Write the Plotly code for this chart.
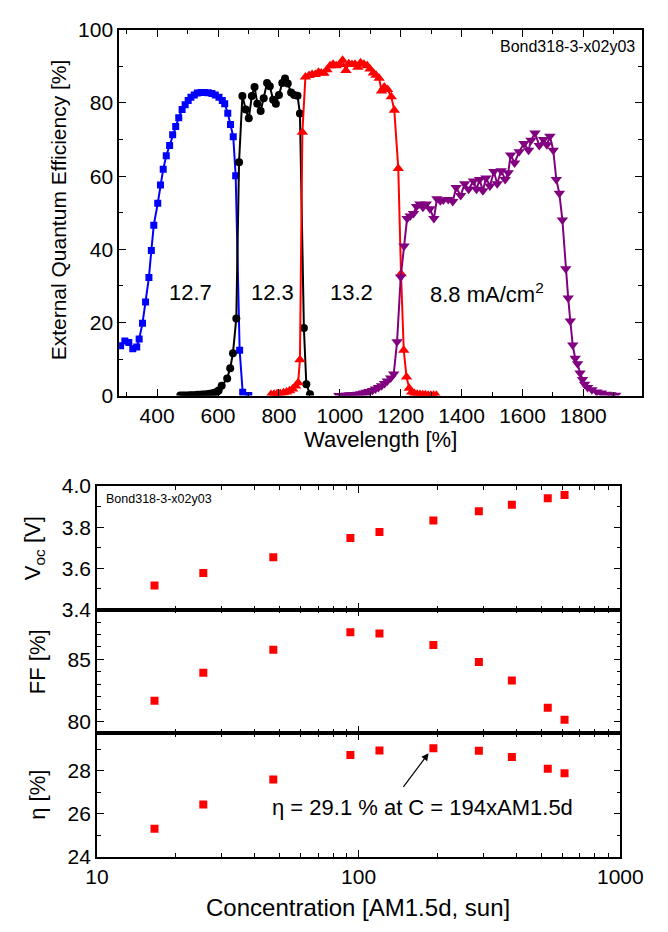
import numpy as np
import plotly.graph_objects as go

# ---------------- Top panel: EQE spectra ----------------
blue_wl = [280, 294, 307, 320, 333, 341, 352, 362, 373, 381, 389, 402, 411, 420, 430, 441, 451, 461,
           471, 482, 492, 502, 511, 522, 532, 544, 555, 568, 580, 591, 603, 614, 622, 632, 641, 650,
           658, 671, 681, 701]
blue_eqe = [13.6, 14.9, 14.5, 12.8, 13.3, 15.5, 19.8, 25.6, 32.3, 39.7, 46.6, 52.6, 57.6, 61.9, 65.6,
            68.4, 71.3, 73.6, 76.0, 78.2, 79.5, 80.7, 81.6, 82.2, 82.7, 82.9, 82.9, 82.8, 82.6, 82.2,
            81.6, 80.7, 79.8, 77.2, 74.1, 70.8, 60.1, 12.4, 0.9, 0.0]

black_wl = [476, 484, 492, 500, 508, 516, 524, 532, 540, 548, 556, 564, 572, 580, 588, 596, 602, 612,
            630, 640, 649, 660, 669, 680, 691, 701, 711, 720, 729, 740, 750, 761, 770, 781, 790, 800,
            811, 820, 829, 840, 850, 861, 869, 882, 890, 902]
black_eqe = [0.0, 0.0, 0.0, 0.0, 0.1, 0.1, 0.1, 0.2, 0.2, 0.3, 0.3, 0.4, 0.5, 0.6, 0.8, 1.0, 1.4, 2.7,
             4.7, 7.5, 11.6, 21.1, 63.8, 81.9, 78.2, 75.8, 81.9, 84.4, 79.8, 77.8, 81.3, 85.5, 84.6,
             80.9, 79.8, 82.2, 85.5, 86.7, 85.3, 82.9, 82.2, 82.0, 77.1, 18.5, 3.1, 0.4]

red_wl = [774, 784, 794, 804, 815, 825, 835, 845, 855, 863, 869, 877, 887, 899, 909, 919, 930, 939,
          948, 958, 968, 978, 988, 999, 1009, 1020, 1029, 1040, 1050, 1059, 1068, 1079, 1090, 1099,
          1110, 1119, 1129, 1137, 1146, 1157, 1169, 1179, 1192, 1201, 1210, 1219, 1228, 1236, 1245,
          1254, 1263, 1272, 1281, 1290, 1299, 1308, 1317]
red_eqe = [0.3, 0.4, 0.5, 0.6, 0.8, 1.0, 1.3, 1.8, 2.6, 3.5, 9.8, 72.0, 87.1, 87.5, 87.8, 87.8, 88.4,
           88.2, 88.1, 89.1, 90.2, 90.6, 90.2, 90.5, 91.7, 88.9, 90.7, 90.5, 90.6, 89.8, 91.0, 90.6,
           90.2, 89.3, 88.2, 87.6, 86.8, 83.3, 84.4, 83.7, 81.7, 78.0, 62.1, 33.3, 12.4, 5.1, 2.0,
           1.0, 0.6, 0.4, 0.3, 0.2, 0.2, 0.1, 0.1, 0.1, 0.1]

purple_wl = [997, 1006, 1015, 1024, 1033, 1042, 1051, 1060, 1069, 1078, 1087, 1096, 1107, 1117, 1127,
             1137, 1147, 1156, 1167, 1177, 1188, 1200, 1211, 1221, 1231, 1242, 1252, 1263, 1273, 1284,
             1296, 1309, 1319, 1330, 1340, 1356, 1371, 1382, 1397, 1410, 1423, 1439, 1449, 1459, 1470,
             1480, 1493, 1506, 1517, 1530, 1543, 1553, 1561, 1574, 1589, 1605, 1620, 1628, 1641, 1655,
             1669, 1680, 1690, 1701, 1711, 1721, 1731, 1742, 1750, 1757, 1765, 1773, 1781, 1789, 1797,
             1804, 1814, 1828, 1844, 1859, 1875, 1890, 1906]
purple_eqe = [0.0, 0.0, 0.1, 0.1, 0.2, 0.2, 0.3, 0.4, 0.5, 0.7, 0.9, 1.1, 1.4, 1.8, 2.2, 2.7, 3.3, 4.0,
              4.8, 5.9, 14.7, 32.4, 40.9, 48.4, 49.1, 49.8, 51.7, 52.4, 51.5, 52.4, 51.1, 48.4, 53.8,
              53.3, 53.5, 53.6, 53.1, 56.9, 54.7, 57.9, 56.4, 58.7, 56.4, 59.1, 56.0, 59.5, 57.3, 61.3,
              57.9, 61.5, 59.1, 60.9, 65.8, 63.6, 66.7, 68.9, 67.1, 69.8, 71.8, 68.4, 70.0, 68.6, 70.9,
              67.1, 59.1, 55.3, 48.0, 34.7, 26.7, 20.4, 13.8, 10.2, 8.7, 6.2, 4.4, 3.1, 2.2, 1.6, 1.0,
              0.7, 0.4, 0.2, 0.1]

jsc_labels = ["12.7", "12.3", "13.2", "8.8 mA/cm<sup>2</sup>"]
jsc_label_wl = [508, 780, 1038, 1482]
jsc_label_y = [28.1, 28.1, 28.1, 28.1]

# ---------------- Bottom panels: vs concentration ----------------
conc = [16.6, 25.5, 47.2, 93.0, 120.1, 193.0, 288, 385, 528, 612]
voc = [3.517, 3.578, 3.654, 3.747, 3.777, 3.833, 3.877, 3.909, 3.940, 3.956]
ff = [81.7, 83.94, 85.78, 87.19, 87.09, 86.17, 84.80, 83.31, 81.13, 80.16]
eta = [25.3, 26.44, 27.6, 28.74, 28.95, 29.06, 28.94, 28.65, 28.1, 27.89]

FONT = "Liberation Sans, Arial, Helvetica, sans-serif"
W, H = 668, 932

fig = go.Figure()
fig.add_trace(go.Scatter(x=blue_wl, y=blue_eqe, mode="lines+markers",
                         line=dict(color="#0000FF", width=2),
                         marker=dict(symbol="square", size=7, color="#0000FF"),
                         xaxis="x", yaxis="y", showlegend=False))
fig.add_trace(go.Scatter(x=black_wl, y=black_eqe, mode="lines+markers",
                         line=dict(color="#000000", width=2),
                         marker=dict(symbol="circle", size=8, color="#000000"),
                         xaxis="x", yaxis="y", showlegend=False))
fig.add_trace(go.Scatter(x=red_wl, y=red_eqe, mode="lines+markers",
                         line=dict(color="#FF0000", width=2),
                         marker=dict(symbol="triangle-up", size=10, color="#FF0000"),
                         xaxis="x", yaxis="y", showlegend=False))
fig.add_trace(go.Scatter(x=purple_wl, y=purple_eqe, mode="lines+markers",
                         line=dict(color="#800080", width=2),
                         marker=dict(symbol="triangle-down", size=10, color="#800080"),
                         xaxis="x", yaxis="y", showlegend=False))

for yv, ax in [(voc, "2"), (ff, "3"), (eta, "4")]:
    fig.add_trace(go.Scatter(x=conc, y=yv, mode="markers",
                             marker=dict(symbol="square", size=8, color="#FF0000"),
                             xaxis="x" + ax, yaxis="y" + ax, showlegend=False))


def px_dom_x(a, b):
    return [a / W, b / W]


def px_dom_y(top, bottom):
    return [1 - bottom / H, 1 - top / H]


def axstyle(lw):
    return dict(showline=True, linecolor="black", linewidth=lw, mirror="ticks",
                ticks="inside", ticklen=7, tickwidth=1.3, tickcolor="black",
                showgrid=False, zeroline=False,
                tickfont=dict(family=FONT, size=21, color="black"))


top = axstyle(1.5)
bot = axstyle(1.5)
mn = lambda d: dict(dtick=d, ticks="inside", ticklen=4, tickcolor="black")

top_dom_x = px_dom_x(113, 665)
bot_dom_x = px_dom_x(89.6, 642)

fig.update_layout(
    width=W, height=H,
    margin=dict(l=0, r=0, t=0, b=0),
    paper_bgcolor="white", plot_bgcolor="white",
    font=dict(family=FONT, color="black"),
    xaxis=dict(domain=top_dom_x, anchor="y", range=[275, 1993], dtick=200, tick0=0,
               minor=mn(100), **top),
    yaxis=dict(domain=px_dom_y(18.3, 393.3), anchor="x", range=[0, 100], dtick=20,
               minor=mn(10), **top),
    xaxis2=dict(domain=bot_dom_x, anchor="y2", type="log", range=[1, 3], dtick=1,
                showticklabels=False, minor=mn("D1"), **bot),
    yaxis2=dict(domain=px_dom_y(486, 612.7), anchor="x2", range=[3.4, 4.0], dtick=0.2,
                tickformat=".1f", minor=mn(0.1), **bot),
    xaxis3=dict(domain=bot_dom_x, anchor="y3", type="log", range=[1, 3], dtick=1,
                showticklabels=False, minor=mn("D1"), **bot),
    yaxis3=dict(domain=px_dom_y(612.7, 739.3), anchor="x3", range=[79.1, 89.0], dtick=5, tick0=0,
                minor=mn(1), **bot),
    xaxis4=dict(domain=bot_dom_x, anchor="y4", type="log", range=[1, 3], dtick=1,
                minor=mn("D1"), **bot),
    yaxis4=dict(domain=px_dom_y(739.3, 866), anchor="x4", range=[24, 29.77], dtick=2,
                minor=mn(1), **bot),
)

ann = []
for t, xv, yv in zip(jsc_labels, jsc_label_wl, jsc_label_y):
    ann.append(dict(text=t, x=xv, y=yv, xref="x", yref="y", showarrow=False,
                    font=dict(family=FONT, size=22, color="black")))


def pann(text, x, y, size, angle=0, xanchor="center"):
    return dict(text=text, x=x / W, y=1 - y / H, xref="paper", yref="paper",
                showarrow=False, textangle=angle, xanchor=xanchor, yanchor="middle",
                font=dict(family=FONT, size=size, color="black"))


ann += [
    pann("Bond318-3-x02y03", 660, 35, 16, xanchor="right"),
    pann("Bond318-3-x02y03", 97, 499, 12.5, xanchor="left"),
    pann("External Quantum Efficiency [%]", 50, 203, 21, angle=-90),
    pann("Wavelength [%]", 389, 438, 22),
    pann("V<sub>oc</sub> [V]", 24, 550, 22, angle=-90),
    pann("FF [%]", 27, 666, 22, angle=-90),
    pann("η [%]", 27, 803, 22, angle=-90),
    pann("Concentration [AM1.5d, sun]", 365, 918, 24),
    pann("η = 29.1 % at C = 194xAM1.5d", 433, 816, 22),
]
ann.append(dict(text=" ", x=np.log10(188), y=28.94, xref="x4", yref="y4",
                showarrow=True, ax=-30, ay=40, axref="pixel", ayref="pixel",
                arrowhead=2, arrowsize=1.2, arrowwidth=1.2, arrowcolor="black", standoff=3))
fig.update_layout(annotations=ann)

fig.write_html("out.html")
